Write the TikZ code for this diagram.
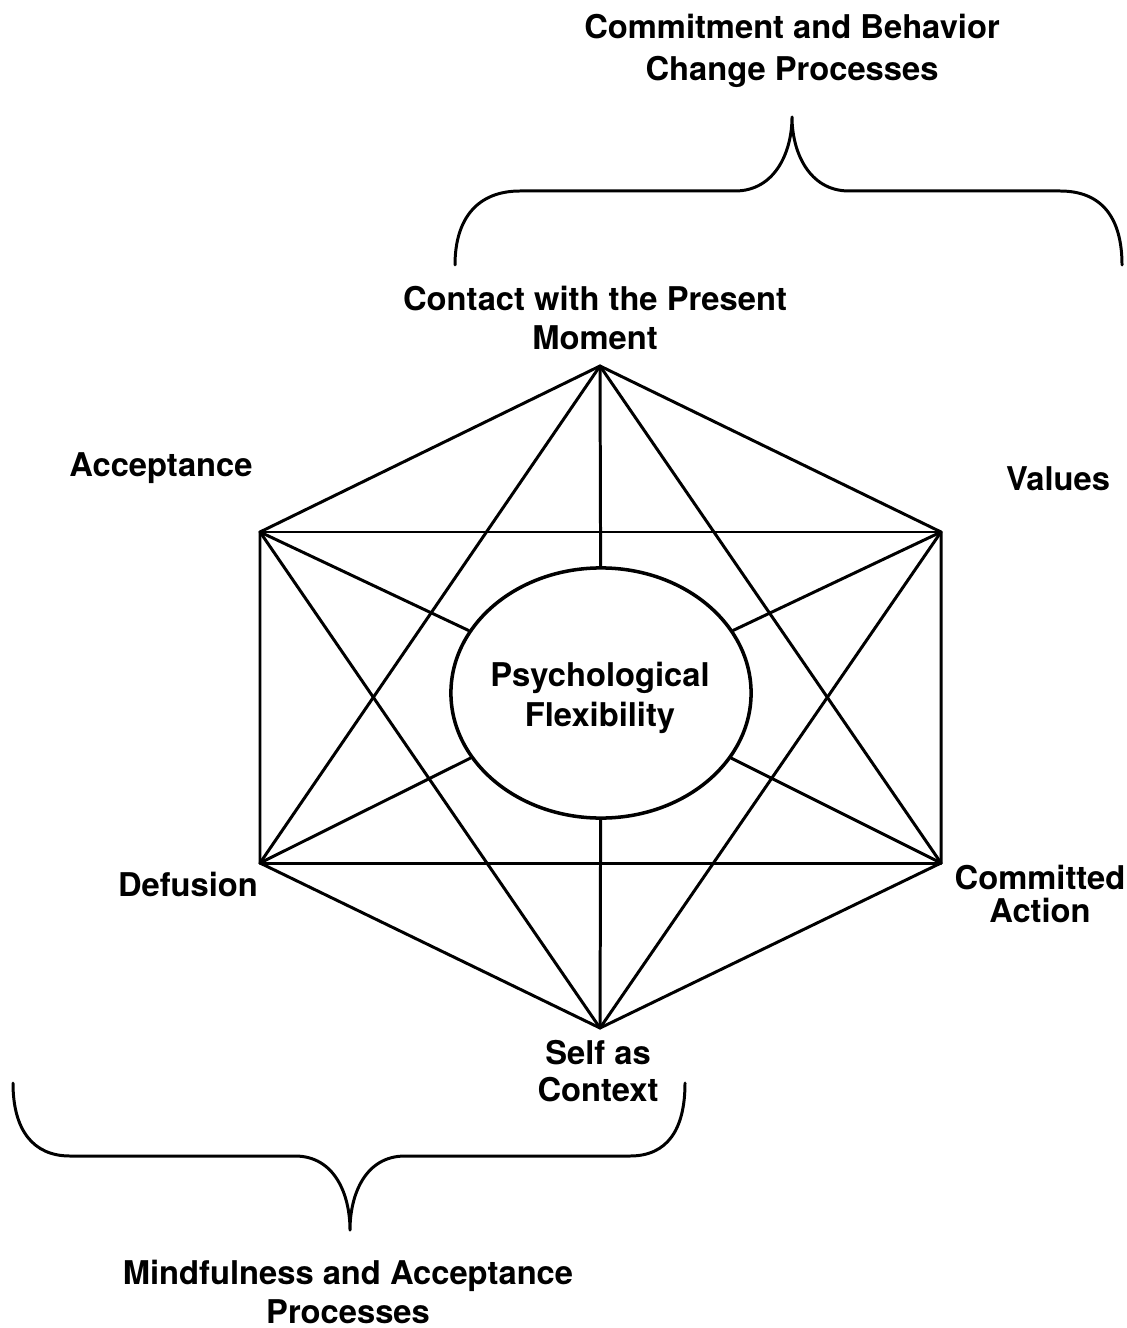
\documentclass[tikz,border=0pt]{standalone}
\usepackage{fontspec}
\setmainfont{TeX Gyre Heros}
\usetikzlibrary{shapes.geometric}

\tikzset{
  lbl/.style={font=\bfseries\fontsize{9.3}{11.3}\selectfont, align=center, inner sep=0pt},
  edge/.style={line width=0.85pt, line cap=round, line join=round},
}

\begin{document}
\begin{tikzpicture}[x=0.01cm, y=-0.01cm]
    \useasboundingbox (0,0) rectangle (1126,1328);

    % Vertices of the hexaflex
    \coordinate (present) at (600,366);
    \coordinate (accept) at (260,532);
    \coordinate (values) at (941,532);
    \coordinate (defus) at (260,863);
    \coordinate (commit) at (941,863);
    \coordinate (self) at (600,1028);

    % Centre
    \node[ellipse, draw, line width=1pt, minimum width=3.0cm, minimum height=2.5cm, inner sep=0pt]
        (flex) at (601,693) {};
    \node[lbl, font=\bfseries\fontsize{9.3}{11.5}\selectfont] (lflex) at (600,698) {Psychological\\Flexibility};

    % Outer hexagon and the two horizontals
    \draw[edge] (present) -- (values) -- (commit) -- (self) -- (defus) -- (accept) -- cycle;
    \draw[edge] (accept) -- (values);
    \draw[edge] (defus) -- (commit);

    % Triangles
    \draw[edge] (present) -- (defus);
    \draw[edge] (present) -- (commit);
    \draw[edge] (self) -- (accept);
    \draw[edge] (self) -- (values);

    % Spokes to the centre
    \foreach \v in {present, accept, values, defus, commit, self}
        \draw[edge] (\v) -- (flex);

    % Process labels
    \node[lbl] (lpresent) at (595,318) {Contact with the Present\\Moment};
    \node[lbl] (laccept) at (161,468) {Acceptance};
    \node[lbl] (lvalues) at (1058,479) {Values};
    \node[lbl] (ldefus) at (188,884) {Defusion};
    \node[lbl, font=\bfseries\fontsize{9.3}{9.4}\selectfont] (lcommit) at (1040,894) {Committed\\Action};
    \node[lbl, font=\bfseries\fontsize{9.3}{10.4}\selectfont] (lself) at (598,1071) {Self as\\Context};

    % Brace over the commitment processes
    \draw[edge] (455,265) .. controls (455,218) and (478,191) .. (520,191)
        -- (735,191) .. controls (775,191) and (792,152) .. (792,117)
        .. controls (792,152) and (809,191) .. (849,191)
        -- (1060,191) .. controls (1102,191) and (1122,218) .. (1122,265);
    \node[lbl, font=\bfseries\fontsize{9.3}{11.8}\selectfont] (ltop) at (792,51) {Commitment and Behavior\\Change Processes};

    % Brace under the mindfulness processes
    \draw[edge] (13,1083) .. controls (13,1130) and (33,1156) .. (70,1156)
        -- (295,1156) .. controls (335,1156) and (350,1195) .. (350,1230)
        .. controls (350,1195) and (365,1156) .. (405,1156)
        -- (630,1156) .. controls (667,1156) and (685,1130) .. (685,1083);
    \node[lbl, font=\bfseries\fontsize{9.3}{10.9}\selectfont] (lbottom) at (348,1292) {Mindfulness and Acceptance\\Processes};
\end{tikzpicture}
\end{document}
